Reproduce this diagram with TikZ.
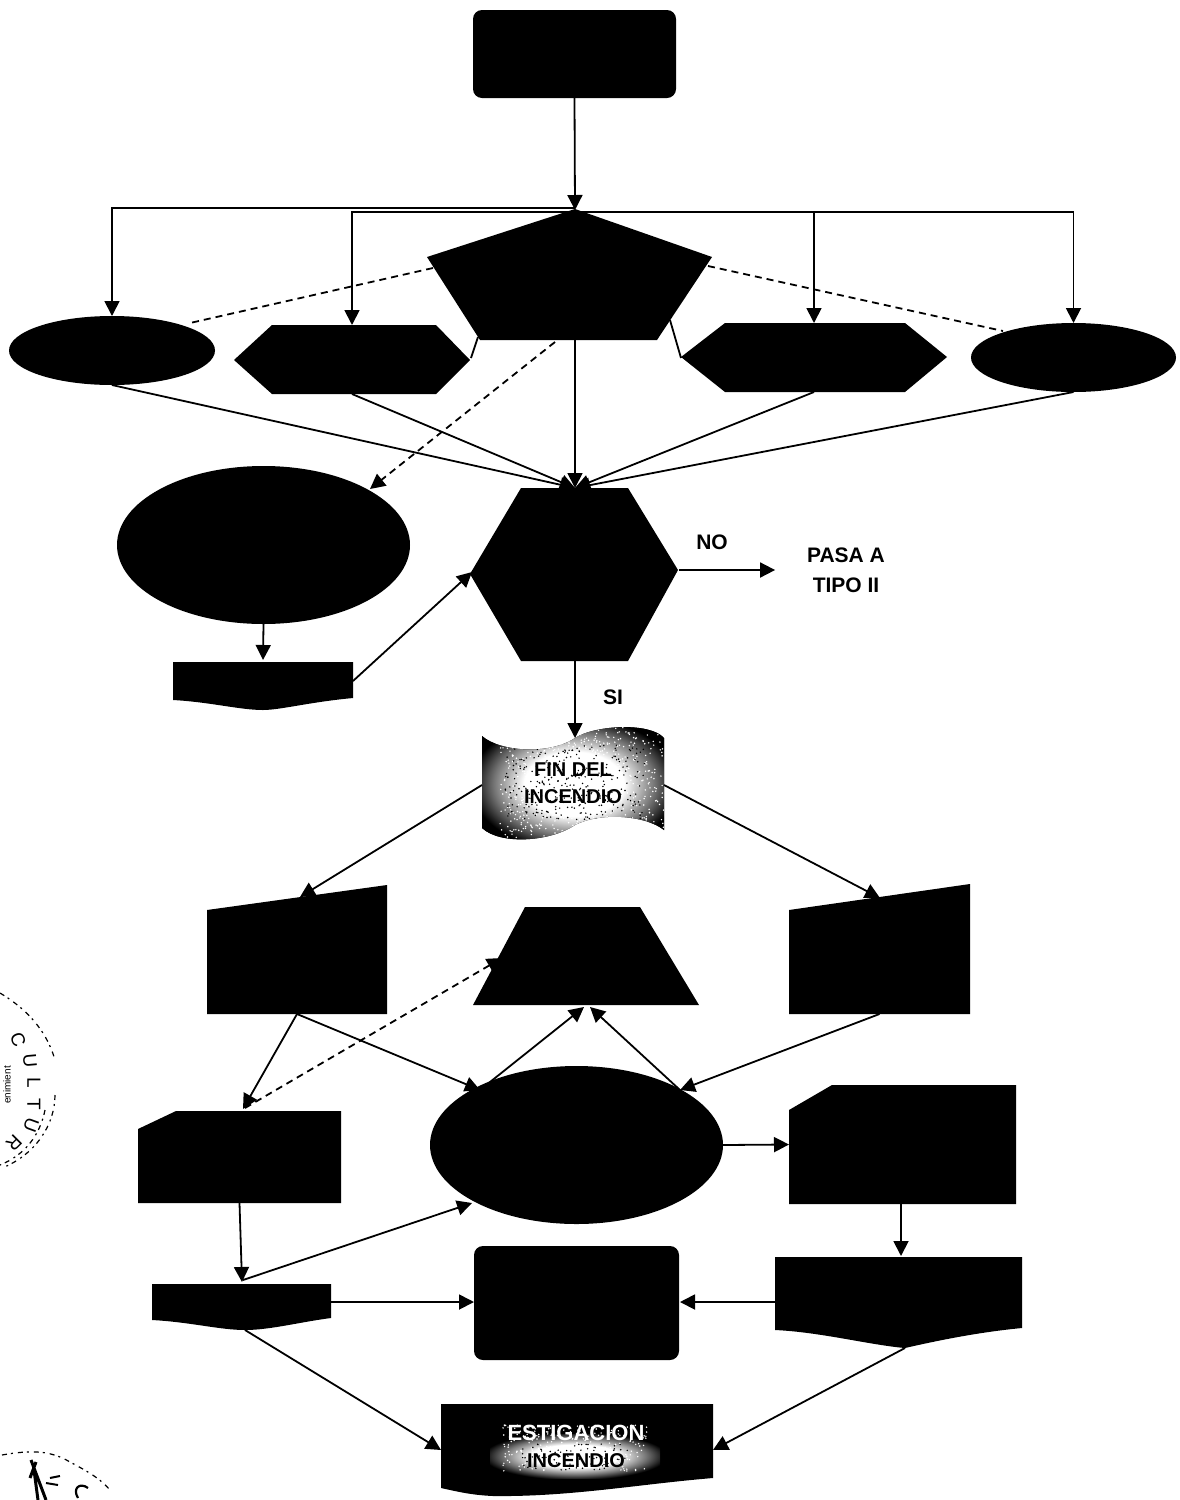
\documentclass[tikz,border=0pt]{standalone}
\usepackage{fontspec}
\setmainfont{Liberation Sans}
\usetikzlibrary{shapes.geometric,arrows.meta,calc}
\pgfdeclareradialshading{glow}{\pgfpoint{0bp}{0bp}}{%
  color(0bp)=(white); color(13bp)=(white); color(21bp)=(black!55); color(27bp)=(black); color(50bp)=(black)}
\tikzset{
  shapebox/.style={inner sep=0pt,outer sep=0pt,draw=none},
  blackell/.style={shapebox,ellipse,fill=black},
  blackround/.style={shapebox,rectangle,rounded corners=9pt,fill=black},
  conn/.style={line width=1.8pt,-{Triangle[length=15pt,width=15pt]}},
  plain/.style={line width=1.8pt},
  dashconn/.style={line width=1.8pt,dash pattern=on 7pt off 5pt},
  lbl/.style={inner sep=0pt,outer sep=0pt,font=\bfseries\fontsize{21}{30}\selectfont,align=center},
  stamp/.style={line width=1.2pt,dash pattern=on 5pt off 4pt on 2pt off 5pt},
  stampletter/.style={inner sep=0pt,font=\fontsize{19}{19}\selectfont},
}
\begin{document}
\begin{tikzpicture}[x=1pt,y=-1pt]
\useasboundingbox (0,0) rectangle (1179,1500);
\fill[white] (0,0) rectangle (1179,1500);

% stamps at the left edge
\draw[stamp] (0,993) .. controls (20,1005) and (45,1025) .. (55,1060);
\draw[stamp] (55,1095) .. controls (55,1125) and (35,1155) .. (2,1168);
\draw[stamp] (45,1110) .. controls (40,1135) and (25,1155) .. (0,1165);
\node[stampletter,rotate=-70] at (18,1040) {C};
\node[stampletter,rotate=-85] at (30,1061) {U};
\node[stampletter,rotate=-90] at (34,1083) {L};
\node[stampletter,rotate=-90] at (34,1104) {T};
\node[stampletter,rotate=-110] at (31,1125) {U};
\node[stampletter,rotate=-135] at (14,1143) {R};
\node[inner sep=0pt,rotate=90,font=\fontsize{10}{10}\selectfont] at (7,1085) {enimient};
\draw[stamp] (2,1455) .. controls (30,1450) and (50,1450) .. (70,1462) .. controls (85,1470) and (100,1478) .. (110,1490);
\draw[line width=3pt] (31,1460) -- (46,1500) (36,1462) -- (30,1478) (34,1470) -- (38,1500);
\draw[line width=2pt] (50,1478) -- (60,1476) (46,1483) -- (58,1485);
\draw[line width=2.2pt] (78,1498) .. controls (72,1488) and (80,1482) .. (88,1488);

% top
\node[blackround,minimum width=203pt,minimum height=88pt] (start) at (574.5,54) {};

% pentagon
\node[shapebox,minimum width=286pt,minimum height=130pt] (penta) at (569,274) {};
\fill (575,209) -- (712,257) -- (657,340) -- (480,340) -- (427,257) -- cycle;
\coordinate (pentaTop) at (575,210);
\coordinate (pentaL) at (433,268);
\coordinate (pentaR) at (708,266);
\coordinate (pentaBL) at (478,337);
\coordinate (pentaBR) at (670,320);
\coordinate (pentaDash) at (555,342);
\coordinate (pentaS) at (575,340);

% upper row
\node[blackell,minimum width=206pt,minimum height=69pt] (ellL) at (112,350.5) {};
\node[shapebox,minimum width=236pt,minimum height=69pt] (hexL) at (352,359.5) {};
\fill (234,360) -- (272,325) -- (436,325) -- (470,360) -- (436,394) -- (272,394) -- cycle;
\node[shapebox,minimum width=266pt,minimum height=69pt] (hexR) at (814,357.5) {};
\fill (681,357) -- (725,323) -- (905,323) -- (947,357) -- (905,392) -- (725,392) -- cycle;
\node[blackell,minimum width=205pt,minimum height=69pt] (ellR) at (1073.5,357.5) {};
\coordinate (hexLE) at (471,358);
\coordinate (hexRW) at (681,358);
\coordinate (ellLD) at (190,323);
\coordinate (ellRD) at (1003,331);

% decision row
\node[blackell,minimum width=293pt,minimum height=158pt] (ellBig) at (263.5,545) {};
\node[shapebox,minimum width=208pt,minimum height=173pt] (hexBig) at (575,574.5) {};
\fill (470,574) -- (521,488) -- (628,488) -- (678,570) -- (628,661) -- (521,661) -- cycle;
\coordinate (ellBigD) at (370,489);
\node[shapebox,minimum width=180pt,minimum height=48pt] (docA) at (263,686) {};
\fill (173,662) -- (353,662) -- (353,698) .. controls (310,702) and (280,710) .. (263,710) .. controls (240,710) and (210,702) .. (173,700) -- cycle;
\coordinate (docAE) at (353,681);
\coordinate (docAtop) at (263,660);
\coordinate (hexBigW) at (472,572);

\node[lbl] (no) at (712,542) {NO};
\node[lbl] (pasa) at (846,570) {PASA A\\TIPO II};
\node[lbl] (si) at (613,697) {SI};

% banner
\fill[black] (482,736) .. controls (500,752) and (550,755) .. (575,738) .. controls (595,725) and (650,722) .. (664,738)
  -- (664,830) .. controls (645,815) and (600,812) .. (575,825) .. controls (550,842) and (500,845) .. (482,828) -- cycle;
\begin{scope}
  \clip (482,736) .. controls (500,752) and (550,755) .. (575,738) .. controls (595,725) and (650,722) .. (664,738)
  -- (664,830) .. controls (645,815) and (600,812) .. (575,825) .. controls (550,842) and (500,845) .. (482,828) -- cycle;
  \shade[shading=glow] (478,722) rectangle (670,846);
  \pgfmathsetseed{7}
  \foreach \i in {1,...,700} {
    \pgfmathsetmacro{\px}{500+164*rnd}
    \pgfmathsetmacro{\py}{725+120*rnd}
    \fill[white] (\px,\py) circle (0.8pt);
  }
  \foreach \i in {1,...,320} {
    \pgfmathsetmacro{\qx}{505+140*rnd}
    \pgfmathsetmacro{\qy}{745+75*rnd}
    \fill[black] (\qx,\qy) circle (0.8pt);
  }
\end{scope}
\node[shapebox,align=center,font=\bfseries\fontsize{20}{27}\selectfont] (banner) at (573,783) {FIN DEL\\INCENDIO};
\coordinate (bannerW) at (482,785);
\coordinate (bannerE) at (664,785);
\coordinate (bannerT) at (575,738);

% middle row
\node[shapebox,minimum width=180pt,minimum height=129pt] (quadL) at (297,949.5) {};
\fill (207,910) -- (387,885) -- (387,1014) -- (207,1014) -- cycle;
\node[shapebox,minimum width=181pt,minimum height=130pt] (quadR) at (879.5,949) {};
\fill (789,910) -- (970,884) -- (970,1014) -- (789,1014) -- cycle;
\node[shapebox,minimum width=226pt,minimum height=98pt] (trap) at (586,956) {};
\fill (525,907) -- (640,907) -- (699,1005) -- (473,1005) -- cycle;
\coordinate (quadLtop) at (300,897);
\coordinate (quadRtop) at (880,898);
\coordinate (trapDash) at (502,958);
\coordinate (trapA) at (584,1007);
\coordinate (trapB) at (590,1007);

\node[blackell,minimum width=293pt,minimum height=158pt] (ellMid) at (576.5,1145) {};
\node[shapebox,minimum width=203pt,minimum height=92pt] (snipL) at (239.5,1157) {};
\fill (138,1129) -- (176,1111) -- (341,1111) -- (341,1203) -- (138,1203) -- cycle;
\node[shapebox,minimum width=227pt,minimum height=119pt] (snipR) at (902.5,1144.5) {};
\fill (789,1110) -- (832,1085) -- (1016,1085) -- (1016,1204) -- (789,1204) -- cycle;
\coordinate (ellMidNW) at (480,1090);
\coordinate (ellMidNE) at (680,1090);
\coordinate (ellMidSW) at (472,1203);
\coordinate (snipLtop) at (243,1109);
\coordinate (snipLtip) at (245,1108);

% lower row
\node[shapebox,minimum width=179pt,minimum height=46pt] (docB) at (241.5,1307) {};
\fill (152,1284) -- (331,1284) -- (331,1318) .. controls (300,1322) and (270,1330) .. (245,1330) .. controls (220,1330) and (190,1322) .. (152,1320) -- cycle;
\node[blackround,minimum width=205pt,minimum height=114pt] (roundC) at (576.5,1303) {};
\node[shapebox,minimum width=247pt,minimum height=91pt] (docC) at (898.5,1302.5) {};
\fill (775,1257) -- (1022,1257) -- (1022,1328) .. controls (980,1332) and (940,1340) .. (905,1348) .. controls (870,1345) and (820,1332) .. (775,1330) -- cycle;
\coordinate (docBtop) at (242,1282);
\coordinate (docBtopS) at (243,1280);
\coordinate (docBE) at (331,1302);
\coordinate (docBbot) at (245,1330);
\coordinate (docCW) at (775,1302);
\coordinate (docCbot) at (905,1348);
\coordinate (docCtop) at (901,1256);
\coordinate (snipRbot) at (901,1204);
\coordinate (roundCE) at (680,1302);
\coordinate (roundCW) at (474,1302);

% bottom document
\fill (441,1404) -- (713,1404) -- (713,1478) .. controls (640,1484) and (570,1497) .. (493,1496) .. controls (470,1495) and (455,1491) .. (441,1488) -- cycle;
\shade[shading=glow] (490,1434) rectangle (660,1478);
\pgfmathsetseed{11}
\foreach \i in {1,...,240} {
  \pgfmathsetmacro{\px}{503+145*rnd}
  \pgfmathsetmacro{\py}{1425+46*rnd}
  \fill[white] (\px,\py) circle (0.8pt);
}
\foreach \i in {1,...,90} {
  \pgfmathsetmacro{\qx}{520+110*rnd}
  \pgfmathsetmacro{\qy}{1444+26*rnd}
  \fill[black] (\qx,\qy) circle (0.8pt);
}
\node[shapebox,align=center,font=\bfseries\fontsize{20}{27}\selectfont] (docD) at (576,1446) {\textcolor{white}{\fontsize{22}{27}\selectfont ESTIGACION}\\INCENDIO};
\coordinate (docDW) at (441,1450);
\coordinate (docDE) at (713,1450);

% connectors
\draw[conn] (start.south) -- (pentaTop);
\draw[conn] ([yshift=2pt]pentaTop) -| (ellL.north);
\draw[conn] ([yshift=-2pt]pentaTop) -| (hexL.north);
\draw[conn] ([yshift=-2pt]pentaTop) -| (hexR.north);
\draw[conn] ([yshift=-2pt]pentaTop) -| (ellR.north);

\draw[dashconn] (pentaL) -- (ellLD);
\draw[dashconn] (pentaR) -- (ellRD);
\draw[plain] (pentaBL) -- (hexLE);
\draw[plain] (pentaBR) -- (hexRW);
\draw[dashconn,-{Triangle[length=15pt,width=15pt]}] (pentaDash) -- (ellBigD);

\draw[conn] (ellL.south) -- (hexBig.north);
\draw[conn] (hexL.south) -- (hexBig.north);
\draw[conn] (pentaS) -- (hexBig.north);
\draw[conn] (hexR.south) -- (hexBig.north);
\draw[conn] (ellR.south) -- (hexBig.north);

\draw[conn] (ellBig.south) -- (docAtop);
\draw[conn] (docAE) -- (hexBigW);
\draw[conn] (hexBig.east |- pasa.west) -- ([xshift=-32pt]pasa.west);
\draw[conn] (hexBig.south) -- (bannerT);

\draw[conn] (bannerW) -- (quadLtop);
\draw[conn] (bannerE) -- (quadRtop);

\draw[conn] (quadL.south) -- (snipLtop);
\draw[conn] (quadL.south) -- (ellMidNW);
\draw[conn] (quadR.south) -- (ellMidNE);
\draw[dashconn,-{Triangle[length=15pt,width=15pt]}] (snipLtip) -- (trapDash);
\draw[conn] (ellMidNW) -- (trapA);
\draw[conn] (ellMidNE) -- (trapB);
\draw[conn] (ellMid.east) -- (snipR.west);
\draw[conn] (snipL.south) -- (docBtop);
\draw[conn] (snipRbot) -- (docCtop);
\draw[conn] (docBtopS) -- (ellMidSW);
\draw[conn] (docBE) -- (roundCW);
\draw[conn] (docCW) -- (roundCE);
\draw[conn] (docBbot) -- (docDW);
\draw[conn] (docCbot) -- (docDE);
\end{tikzpicture}
\end{document}
